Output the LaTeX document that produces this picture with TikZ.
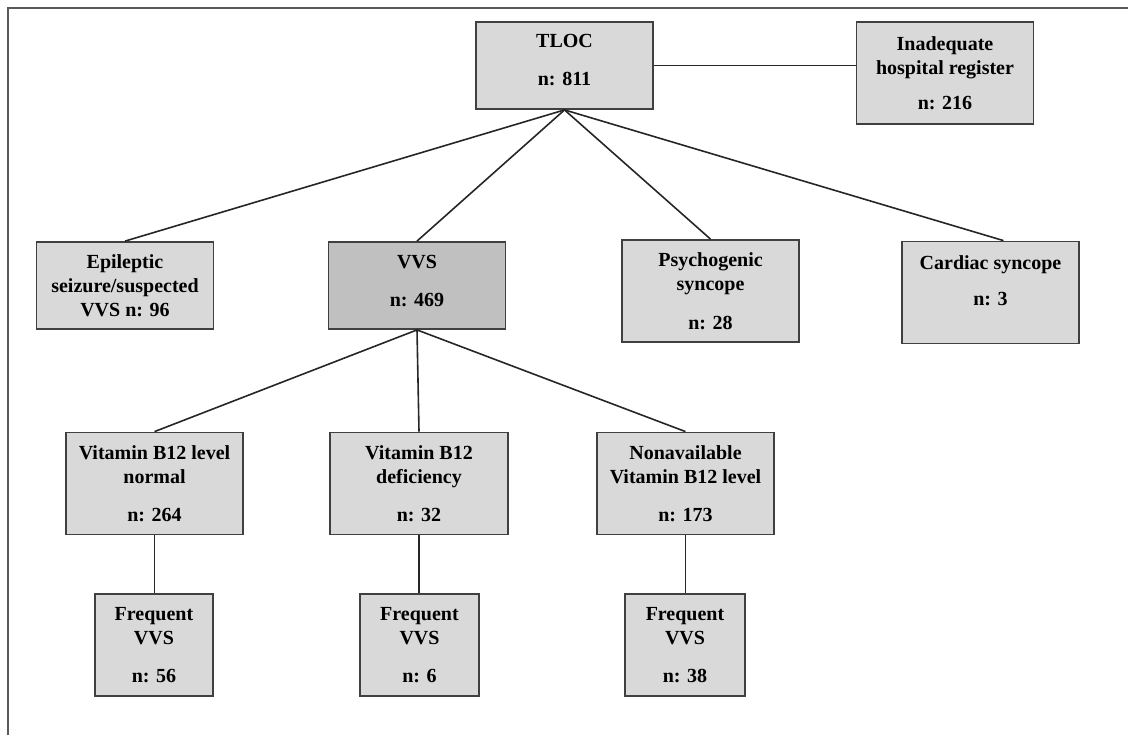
\documentclass[tikz,border=0pt]{standalone}
\usepackage{fontspec}
\setmainfont{Liberation Serif}
\usetikzlibrary{calc, positioning}
\definecolor{boxgrey}{RGB}{217,217,217}
\definecolor{vvsgrey}{RGB}{192,192,192}
\definecolor{edgegrey}{RGB}{64,64,64}

\begin{document}
\begin{tikzpicture}
	[x=0.5pt, y=-0.5pt,
	 box/.style={draw=edgegrey, line width=0.9pt, fill=boxgrey, align=center, inner sep=0pt,
	             font=\bfseries, minimum width=88.5pt, minimum height=51pt},
	 link/.style={draw=black!85, line width=0.8pt}]
	\useasboundingbox (0,0) rectangle (1128,735);
	\draw[black!65, line width=0.8pt] (8,735) -- (8,8) -- (1128,8);
	
	\node[box, minimum height=43.5pt, text depth=5.5pt] (tloc) at (564.5,65.5) {TLOC\\[7pt]n: 811};
	\node[box] (reg) at (945,73) {Inadequate\\hospital register\\[5.5pt]n: 216};
	
	\node[box, minimum height=43.5pt] (epi) at (125,285.5) {Epileptic\\seizure/suspected\\VVS n: 96};
	\node[box, fill=vvsgrey, minimum height=43.5pt, text depth=4.5pt] (vvs) at (417,285.5) {VVS\\[7pt]n: 469};
	\node[box] (psy) at (710.5,291) {Psychogenic\\syncope\\[7.5pt]n: 28};
	\node[box, text depth=12pt] (car) at (990.5,292.5) {Cardiac syncope\\[6pt]n: 3};
	
	\node[box] (b1) at (154.5,483.5) {Vitamin B12 level\\normal\\[7pt]n: 264};
	\node[box, minimum width=89pt] (b2) at (419,483.5) {Vitamin B12\\deficiency\\[7pt]n: 32};
	\node[box] (b3) at (685.5,483.5) {Nonavailable\\Vitamin B12 level\\[7pt]n: 173};
	
	\node[box, minimum width=59pt] (f1) at (154,645) {Frequent\\VVS\\[7pt]n: 56};
	\node[box, minimum width=59.5pt] (f2) at (419.5,645) {Frequent\\VVS\\[7pt]n: 6};
	\node[box, minimum width=60pt] (f3) at (685,645) {Frequent\\VVS\\[7pt]n: 38};
	
	\draw[link] (tloc.east) -- (tloc.east -| reg.west);
	\draw[link] (tloc.south) -- (epi.north);
	\draw[link] (tloc.south) -- (vvs.north);
	\draw[link] (tloc.south) -- (psy.north);
	\draw[link] (tloc.south) -- ($(car.north) + (13,0)$);
	
	\draw[link] (vvs.south) -- (b1.north);
	\draw[link] (vvs.south) -- (b2.north);
	\draw[link] (vvs.south) -- (b3.north);
	
	\draw[link] (b1.south) -- (b1.south |- f1.north);
	\draw[link] (b2.south) -- (b2.south |- f2.north);
	\draw[link] (b3.south) -- (b3.south |- f3.north);
\end{tikzpicture}
\end{document}
